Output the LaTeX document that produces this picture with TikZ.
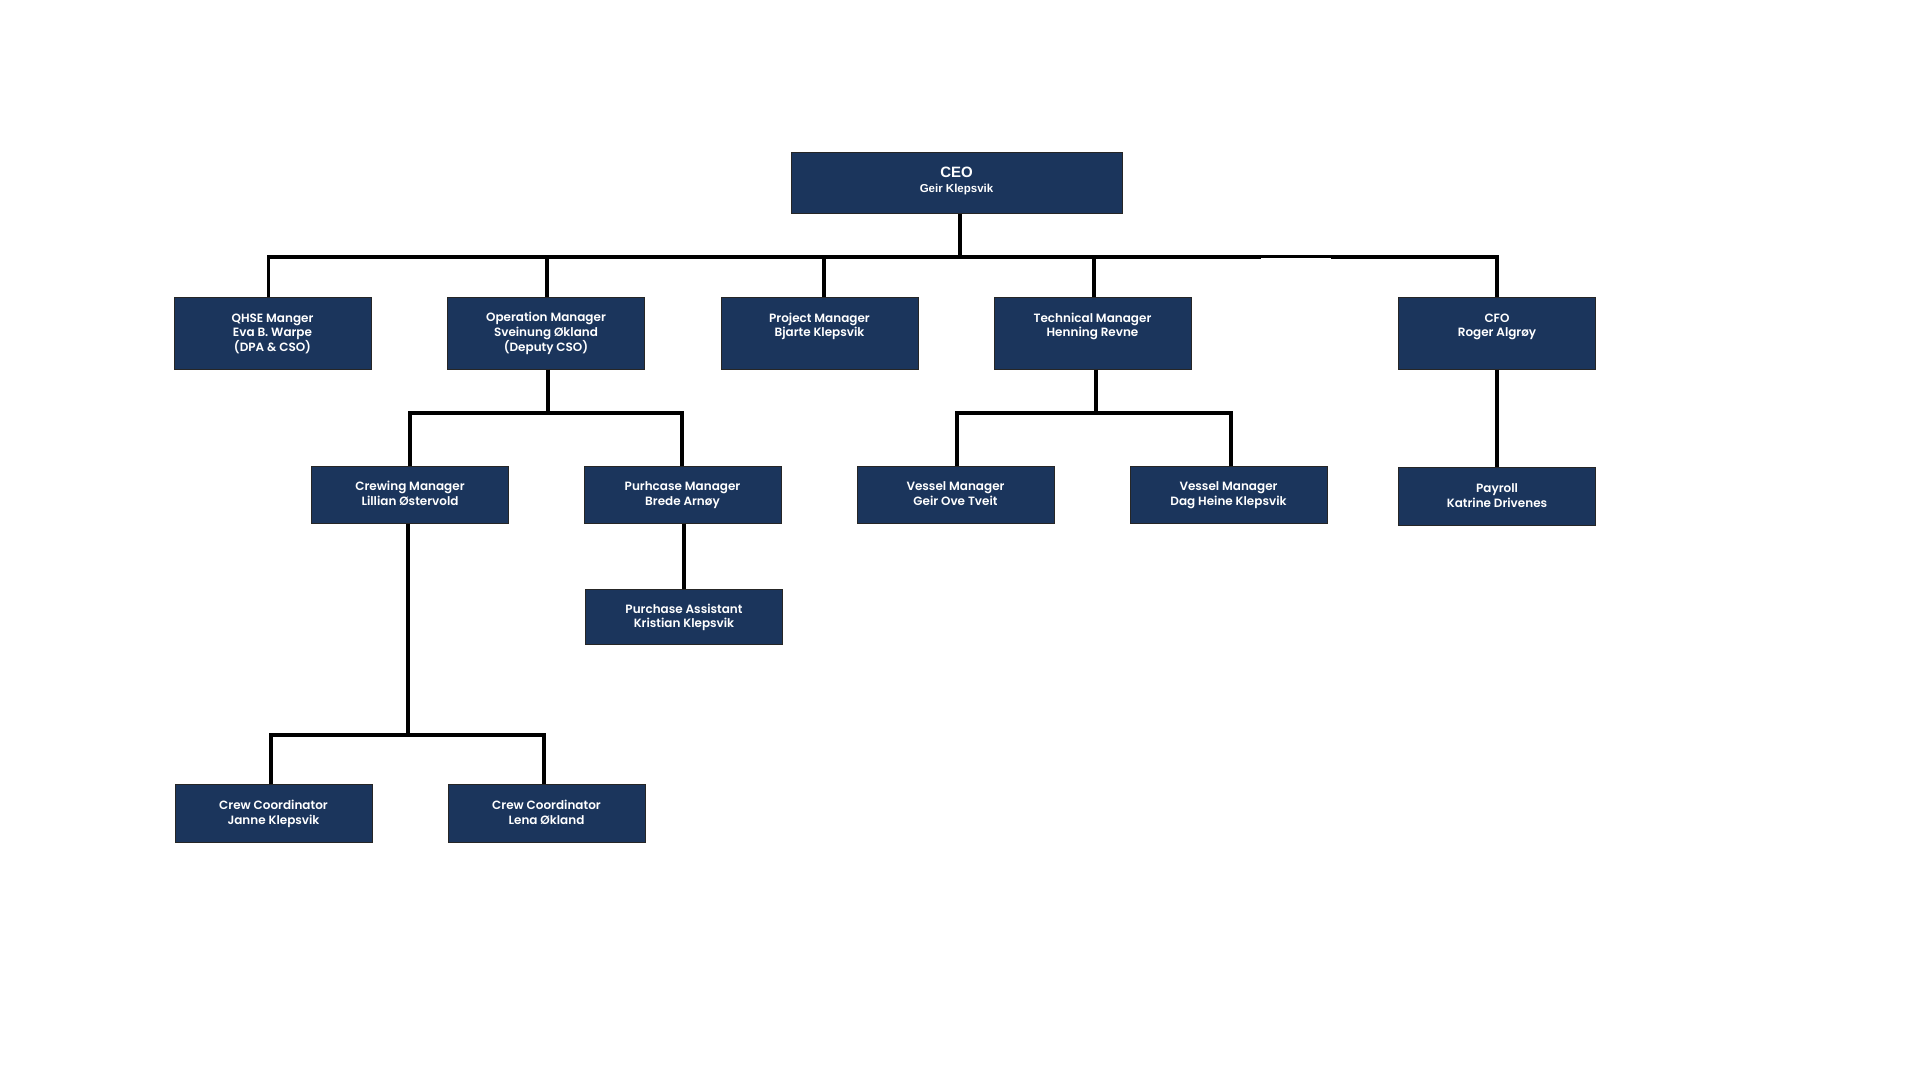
\documentclass[tikz,border=0pt]{standalone}
\usepackage{fontspec}
\newfontfamily\boxfont{Poppins}[UprightFont=* SemiBold]
\newfontfamily\ceofont{Liberation Sans}
\definecolor{navy}{HTML}{1B355C}
\newcommand\mst{\rule[-2.4pt]{0pt}{12.4pt}}
\begin{document}
\begin{tikzpicture}[x=1pt,y=-1pt,
  box/.style={draw=black!85,line width=1pt,fill=navy,text=white,align=center,inner sep=0pt,
    minimum width=197pt,minimum height=72pt,font=\boxfont\fontsize{12}{14.8}\selectfont},
  conn/.style={draw=black,line width=3.5pt,line join=miter}]
\useasboundingbox[fill=white] (0,0) rectangle (1920,1080);
% boxes
\node[box,minimum width=331pt,minimum height=61pt,font=\ceofont\bfseries] (ceo) at (956.5,182.5)
  {{\fontsize{15}{17}\selectfont CEO}\\[3.5pt]{\fontsize{11.5}{13}\selectfont Geir Klepsvik}\rule[-5pt]{0pt}{0pt}};
\node[box] (qhse) at (272.5,333) {\mst QHSE Manger\\\mst Eva B. Warpe\\\mst (DPA \& CSO)};
\node[box] (oper) at (546,333) {\mst Operation Manager\\\mst Sveinung Økland\\\mst (Deputy CSO)};
\node[box] (proj) at (819.5,333) {\mst Project Manager\\\mst Bjarte Klepsvik\\\mst};
\node[box] (tech) at (1092.5,333) {\mst Technical Manager\\\mst Henning Revne\\\mst};
\node[box] (cfo) at (1497,333) {\mst CFO\\\mst Roger Algrøy\\\mst};
\node[box,minimum height=57pt] (crew) at (410,494.5) {\mst Crewing Manager\\\mst Lillian Østervold};
\node[box,minimum height=57pt] (purm) at (682.5,494.5) {\mst Purhcase Manager\\\mst Brede Arnøy};
\node[box,minimum height=57pt] (ves1) at (955.5,494.5) {\mst Vessel Manager\\\mst Geir Ove Tveit};
\node[box,minimum height=57pt] (ves2) at (1228.5,494.5) {\mst Vessel Manager\\\mst Dag Heine Klepsvik};
\node[box,minimum height=58pt] (pay) at (1497,496.5) {\mst Payroll\\\mst Katrine Drivenes};
\node[box,minimum height=55pt] (pura) at (684,617) {\mst Purchase Assistant\\\mst Kristian Klepsvik};
\node[box,minimum height=58pt] (cc1) at (273.5,813.5) {\mst Crew Coordinator\\\mst Janne Klepsvik};
\node[box,minimum height=58pt] (cc2) at (546.5,813.5) {\mst Crew Coordinator\\\mst Lena Økland};
% bus coordinates
\coordinate (topbus) at (960,257);
\coordinate (gapa) at (1261,257);
\coordinate (gapb) at (1331,257);
\coordinate (opbus) at (548,413);
\coordinate (tebus) at (1096,413);
\coordinate (crbus) at (408,735);
% connectors
\draw[conn] ([xshift=3.5pt]ceo.south) -- (topbus);
\draw[conn] ([xshift=-3.8pt]qhse.north) |- (gapa);
\draw[conn] (gapb) -| (cfo.north);
\draw[conn,line width=2.5pt] ([yshift=0.5pt]gapa) -- ([yshift=0.5pt]gapb);
\draw[conn] ([xshift=1pt]oper.north) -- ([xshift=1pt]oper.north |- topbus);
\draw[conn] ([xshift=4.5pt]proj.north) -- ([xshift=4.5pt]proj.north |- topbus);
\draw[conn] ([xshift=1.5pt]tech.north) -- ([xshift=1.5pt]tech.north |- topbus);
% operation subtree
\draw[conn] ([xshift=2pt]oper.south) -- (opbus);
\draw[conn] (crew.north) |- (opbus) -| ([xshift=-0.5pt]purm.north);
% technical subtree
\draw[conn] ([xshift=3.5pt]tech.south) -- (tebus);
\draw[conn] ([xshift=1.5pt]ves1.north) |- (tebus) -| ([xshift=2.5pt]ves2.north);
% cfo -> payroll
\draw[conn] (cfo.south) -- (pay.north);
% purchase
\draw[conn] ([xshift=1.5pt]purm.south) -- ([xshift=1.5pt]purm.south |- pura.north);
% crewing
\draw[conn] ([xshift=-2pt]crew.south) -- (crbus);
\draw[conn] ([xshift=-2.5pt]cc1.north) |- (crbus) -| ([xshift=-2.5pt]cc2.north);
\end{tikzpicture}
\end{document}
